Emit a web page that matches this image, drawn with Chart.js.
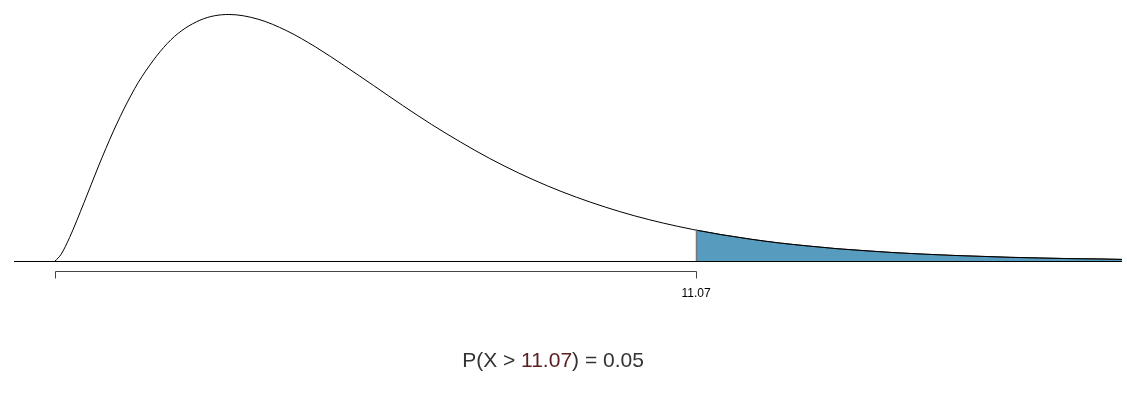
<!DOCTYPE html>
<html>
<head>
<meta charset="utf-8">
<script src="https://cdn.jsdelivr.net/npm/chart.js@4.4.0/dist/chart.umd.min.js"></script>
<style>
  html, body { margin: 0; padding: 0; background: #fff; }
  #wrap { width: 1127px; height: 409px; }
</style>
</head>
<body>
<div id="wrap"><canvas id="grafico" width="1127" height="409"></canvas></div>
<script>
// density curve (x, height)
const xs = [0, 0.1, 0.25, 0.5, 0.75, 1, 1.25, 1.5, 2, 2.5, 3, 3.5, 4, 4.5, 5, 5.5, 6, 6.5, 7, 7.5, 8, 8.5, 9, 9.5, 10, 10.5, 11, 11.07,
            11.5, 12, 12.5, 13, 13.5, 14, 14.5, 15, 15.5, 16, 16.5, 17, 17.5, 18, 18.42];
const ys = [0, 0.0040, 0.0147, 0.0366, 0.0594, 0.0807, 0.0995, 0.1154, 0.1384, 0.1506, 0.1542, 0.1513, 0.1440, 0.1338, 0.1220, 0.1097, 0.0973, 0.0854, 0.0744, 0.0642, 0.0551, 0.0470, 0.0399, 0.0337, 0.0283, 0.0237, 0.0198, 0.0193,
            0.0165, 0.0137, 0.0113, 0.0094, 0.0077, 0.0064, 0.0052, 0.0043, 0.0035, 0.0029, 0.0023, 0.0019, 0.0015, 0.0013, 0.0010];
const cutoff = 11.07;
const tickValues = [0, 11.07];
const tickLabels = ['', '11.07'];
const titleParts = ['P(X > ', '11.07', ') = 0.05'];

const curve = xs.map((x, i) => ({ x: x, y: ys[i] }));
const tail = curve.filter(p => p.x >= cutoff);

const extras = {
    id: 'extras',
    afterDatasetsDraw(chart) {
        const c = chart.ctx;
        const sx = chart.scales.x, sy = chart.scales.y;
        const y0 = Math.round(sy.getPixelForValue(0)) + 0.5;
        c.save();
        // vertical edge of shaded area
        const xc = Math.round(sx.getPixelForValue(cutoff)) + 0.5;
        c.strokeStyle = '#777';
        c.lineWidth = 1.5;
        c.beginPath();
        c.moveTo(xc, y0);
        c.lineTo(xc, sy.getPixelForValue(ys[xs.indexOf(cutoff)]));
        c.stroke();
        // baseline
        c.strokeStyle = '#000';
        c.lineWidth = 1;
        c.beginPath();
        c.moveTo(14, y0);
        c.lineTo(1122, y0);
        c.stroke();
        // bracket axis
        const xa = Math.round(sx.getPixelForValue(tickValues[0])) + 0.5;
        const xb = Math.round(sx.getPixelForValue(tickValues[1])) + 0.5;
        const ya = y0 + 10;
        c.strokeStyle = '#444';
        c.beginPath();
        c.moveTo(xa, ya + 7);
        c.lineTo(xa, ya);
        c.lineTo(xb, ya);
        c.lineTo(xb, ya + 7);
        c.stroke();
        c.fillStyle = '#000';
        c.font = '12px "Liberation Sans", Arial, sans-serif';
        c.textAlign = 'center';
        c.textBaseline = 'alphabetic';
        tickValues.forEach((v, i) => {
            c.fillText(tickLabels[i], Math.round(sx.getPixelForValue(v)), 297);
        });
        // title
        c.font = '21px "Liberation Sans", Arial, sans-serif';
        c.textAlign = 'left';
        const colors = ['#333', '#5c2020', '#333'];
        const total = titleParts.reduce((s, t) => s + c.measureText(t).width, 0);
        let tx = 553 - total / 2;
        titleParts.forEach((t, i) => {
            c.fillStyle = colors[i];
            c.fillText(t, tx, 367);
            tx += c.measureText(t).width;
        });
        c.restore();
    }
};

new Chart(document.getElementById('grafico').getContext('2d'), {
    type: 'line',
    data: {
        datasets: [{
            data: curve,
            borderColor: '#000',
            borderWidth: 1,
            pointRadius: 0,
            fill: false,
            cubicInterpolationMode: 'monotone',
            order: 0,
            clip: false
        }, {
            data: tail,
            borderColor: '#333',
            borderWidth: 1,
            backgroundColor: '#579cbf',
            pointRadius: 0,
            fill: 'origin',
            cubicInterpolationMode: 'monotone',
            order: 1,
            clip: false
        }]
    },
    options: {
        responsive: false,
        animation: false,
        layout: { padding: { left: 14, right: 5, top: 14, bottom: 148 } },
        scales: {
            x: { type: 'linear', min: -0.71, max: 18.42, display: false },
            y: { min: 0, max: 0.1545, display: false }
        },
        plugins: {
            legend: { display: false },
            tooltip: { enabled: false }
        }
    },
    plugins: [extras]
});
</script>
</body>
</html>
